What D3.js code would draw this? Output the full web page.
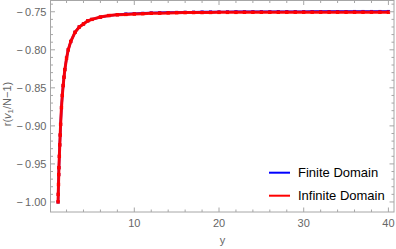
<!DOCTYPE html>
<html><head><meta charset="utf-8">
<script src="https://cdn.jsdelivr.net/npm/d3@7"></script>
<style>body{margin:0;background:#fff}svg{display:block}</style>
</head><body>
<script>
// ---- data ----
const yGrid = [1.0,1.02,1.05,1.08,1.1,1.15,1.2,1.25,1.3,1.4,1.5,1.6,1.7,1.8,2.0,2.2,2.5,3.0,3.5,4.0,4.5,5,6,7,8,9,10,11,12,13,14,15,16,17,18,19,20,21,22,23,24,25,26,27,28,29,30,31,32,33,34,35,36,37,38,39,40];
const infiniteDomain = [-1.000,-0.990,-0.977,-0.964,-0.955,-0.940,-0.925,-0.912,-0.898,-0.876,-0.860,-0.847,-0.836,-0.826,-0.811,-0.800,-0.789,-0.777,-0.770,-0.766,-0.762,-0.760,-0.757,-0.755,-0.754,-0.7535,-0.753,-0.7525,-0.752,-0.7518,-0.7515,-0.7512,-0.7511,-0.751,-0.751,-0.7509,-0.7508,-0.7508,-0.7508,-0.7507,-0.7507,-0.7507,-0.7507,-0.7507,-0.7506,-0.7506,-0.7506,-0.7506,-0.7506,-0.7506,-0.7506,-0.7506,-0.7506,-0.7506,-0.7506,-0.7506,-0.7506];
const finiteDomain = [-1.000,-0.990,-0.977,-0.964,-0.955,-0.940,-0.925,-0.912,-0.898,-0.876,-0.860,-0.847,-0.836,-0.826,-0.811,-0.800,-0.789,-0.777,-0.770,-0.766,-0.762,-0.760,-0.757,-0.755,-0.7538,-0.753,-0.7524,-0.752,-0.7515,-0.7512,-0.751,-0.7508,-0.7506,-0.7505,-0.7504,-0.7503,-0.7502,-0.7501,-0.7500,-0.7500,-0.7499,-0.7499,-0.7499,-0.7498,-0.7498,-0.7498,-0.7498,-0.7497,-0.7497,-0.7497,-0.7497,-0.7497,-0.7496,-0.7496,-0.7496,-0.7496,-0.7496];
const xTickValues = [10,20,30,40];
const yTickValues = [-1.00,-0.95,-0.90,-0.85,-0.80,-0.75];
const seriesNames = ["Finite Domain","Infinite Domain"];
const seriesColors = ["#0000ff","#ff0000"];
const xTitle = "y";

// ---- layout ----
const W = 396, H = 249;
const L = 50.5, R = 394, T = 0.5, B = 212;
const svg = d3.select("body").append("svg").attr("width", W).attr("height", H);
const x = d3.scaleLinear().domain([0.106, 40.66]).range([L, R]);
const y = d3.scaleLinear().domain([-1.0132, -0.7352]).range([B, T]);

const frameCol = "#a6a6a6", labelCol = "#666";
const fontFam = "'Liberation Sans', Arial, sans-serif";

// series
const line = d3.line().x(d => x(d[0])).y(d => y(d[1]));
const plot = svg.append("g");
const dataFin = yGrid.map((v,i)=>[v, finiteDomain[i]]);
const dataInf = yGrid.map((v,i)=>[v, infiniteDomain[i]]);
plot.append("path").datum(dataFin).attr("d", line).attr("fill","none").attr("stroke",seriesColors[0]).attr("stroke-width",2.4);
plot.selectAll(".mf").data(dataFin).enter().append("rect").attr("x",d=>x(d[0])-1.5).attr("y",d=>y(d[1])-1.5).attr("width",3).attr("height",3).attr("fill",seriesColors[0]);
plot.append("path").datum(dataInf).attr("d", line).attr("fill","none").attr("stroke",seriesColors[1]).attr("stroke-width",3).attr("opacity",0.95);
plot.selectAll(".mi").data(dataInf).enter().append("rect").attr("x",d=>x(d[0])-1.7).attr("y",d=>y(d[1])-1.7).attr("width",3.4).attr("height",3.4).attr("fill",seriesColors[1]);

// frame
svg.append("rect").attr("x",L).attr("y",T).attr("width",R-L).attr("height",B-T).attr("fill","none").attr("stroke",frameCol).attr("stroke-width",1);

// ticks
const xMinor = d3.range(2, 41, 2).filter(v => !xTickValues.includes(v));
const yMinor = d3.range(-100, -73, 1).map(v => v/100).filter(v => !yTickValues.some(t => Math.abs(t - v) < 1e-9));
const tg = svg.append("g").attr("stroke",frameCol).attr("stroke-width",1);
xTickValues.forEach(v => { const px = x(v);
  tg.append("line").attr("x1",px).attr("x2",px).attr("y1",B).attr("y2",B-4.5);
  tg.append("line").attr("x1",px).attr("x2",px).attr("y1",T).attr("y2",T+4.5); });
xMinor.forEach(v => { const px = x(v);
  tg.append("line").attr("x1",px).attr("x2",px).attr("y1",B).attr("y2",B-2.5);
  tg.append("line").attr("x1",px).attr("x2",px).attr("y1",T).attr("y2",T+2.5); });
yTickValues.forEach(v => { const py = y(v);
  tg.append("line").attr("x1",L).attr("x2",L+4.5).attr("y1",py).attr("y2",py);
  tg.append("line").attr("x1",R).attr("x2",R-4.5).attr("y1",py).attr("y2",py); });
yMinor.forEach(v => { const py = y(v);
  tg.append("line").attr("x1",L).attr("x2",L+2.5).attr("y1",py).attr("y2",py);
  tg.append("line").attr("x1",R).attr("x2",R-2.5).attr("y1",py).attr("y2",py); });

// tick labels
const fmtY = v => "\u2212\u2009" + Math.abs(v).toFixed(2);
svg.append("g").selectAll("text").data(yTickValues).enter().append("text")
  .attr("x", L-4).attr("y", d => y(d)+3.8).attr("text-anchor","end")
  .attr("font-family",fontFam).attr("font-size",11).attr("fill",labelCol).text(fmtY);
svg.append("g").selectAll("text").data(xTickValues).enter().append("text")
  .attr("x", d => x(d)).attr("y", 227).attr("text-anchor","middle")
  .attr("font-family",fontFam).attr("font-size",11).attr("fill",labelCol).text(d => d);

// axis titles
svg.append("text").attr("x", x(20.4)).attr("y", 244).attr("text-anchor","middle")
  .attr("font-family",fontFam).attr("font-size",11).attr("fill",labelCol).text(xTitle);
const yt = svg.append("text").attr("transform","translate(11,104) rotate(-90)").attr("text-anchor","middle")
  .attr("font-family",fontFam).attr("font-size",11).attr("fill",labelCol);
yt.append("tspan").text("r(");
yt.append("tspan").attr("font-style","italic").text("v");
yt.append("tspan").attr("font-size",8).attr("dy",2).text("1");
yt.append("tspan").attr("dy",-2).text("/N\u22121)");

// legend
const lg = svg.append("g");
seriesNames.forEach((n,i) => {
  const ly = 172.7 + i*23;
  lg.append("line").attr("x1",269).attr("x2",290).attr("y1",ly).attr("y2",ly).attr("stroke",seriesColors[i]).attr("stroke-width",2);
  lg.append("text").attr("x",298).attr("y",ly+4.5).attr("font-family",fontFam).attr("font-size",13).attr("fill","#000").text(n);
});
</script>
</body></html>
